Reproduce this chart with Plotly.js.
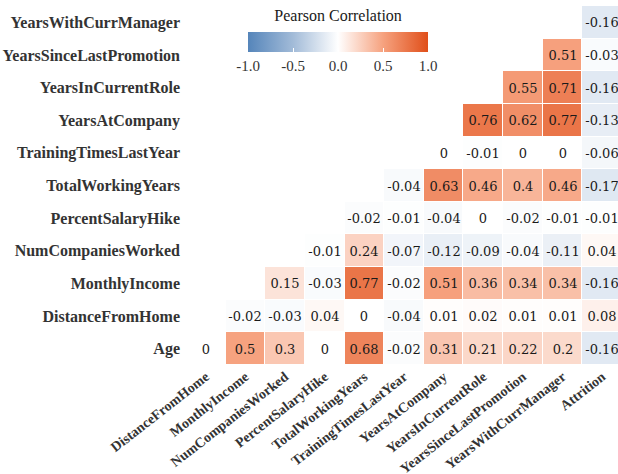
<!DOCTYPE html>
<html>
<head>
<meta charset="utf-8">
<script src="https://cdn.plot.ly/plotly-3.0.1.min.js"></script>
<style>html,body{margin:0;padding:0;background:#fff;}#chart{width:618px;height:474px;}</style>
</head>
<body>
<div id="chart"></div>
<script>
// Columns (x) and rows (y, bottom to top)
const xLabels = ["DistanceFromHome","MonthlyIncome","NumCompaniesWorked","PercentSalaryHike","TotalWorkingYears","TrainingTimesLastYear","YearsAtCompany","YearsInCurrentRole","YearsSinceLastPromotion","YearsWithCurrManager","Attrition"];
const yLabels = ["Age","DistanceFromHome","MonthlyIncome","NumCompaniesWorked","PercentSalaryHike","TotalWorkingYears","TrainingTimesLastYear","YearsAtCompany","YearsInCurrentRole","YearsSinceLastPromotion","YearsWithCurrManager"];

const n = null;
const rowAge                     = [0, 0.5, 0.3, 0, 0.68, -0.02, 0.31, 0.21, 0.22, 0.2, -0.16];
const rowDistanceFromHome        = [n, -0.02, -0.03, 0.04, 0, -0.04, 0.01, 0.02, 0.01, 0.01, 0.08];
const rowMonthlyIncome           = [n, n, 0.15, -0.03, 0.77, -0.02, 0.51, 0.36, 0.34, 0.34, -0.16];
const rowNumCompaniesWorked      = [n, n, n, -0.01, 0.24, -0.07, -0.12, -0.09, -0.04, -0.11, 0.04];
const rowPercentSalaryHike       = [n, n, n, n, -0.02, -0.01, -0.04, 0, -0.02, -0.01, -0.01];
const rowTotalWorkingYears       = [n, n, n, n, n, -0.04, 0.63, 0.46, 0.4, 0.46, -0.17];
const rowTrainingTimesLastYear   = [n, n, n, n, n, n, 0, -0.01, 0, 0, -0.06];
const rowYearsAtCompany          = [n, n, n, n, n, n, n, 0.76, 0.62, 0.77, -0.13];
const rowYearsInCurrentRole      = [n, n, n, n, n, n, n, n, 0.55, 0.71, -0.16];
const rowYearsSinceLastPromotion = [n, n, n, n, n, n, n, n, n, 0.51, -0.03];
const rowYearsWithCurrManager    = [n, n, n, n, n, n, n, n, n, n, -0.16];

const z = [rowAge, rowDistanceFromHome, rowMonthlyIncome, rowNumCompaniesWorked, rowPercentSalaryHike,
  rowTotalWorkingYears, rowTrainingTimesLastYear, rowYearsAtCompany, rowYearsInCurrentRole,
  rowYearsSinceLastPromotion, rowYearsWithCurrManager];
const text = z.map(r => r.map(v => v === null ? "" : String(v)));

const serif = "Liberation Serif, Times New Roman, serif";
const wideSerif = "DejaVu Serif, Liberation Serif, serif";

const trace = {
  type: "heatmap",
  x: xLabels.map((_, i) => i),
  y: yLabels.map((_, i) => i),
  z: z,
  text: text,
  texttemplate: "%{text}",
  textfont: {family: wideSerif, size: 13, color: "#1a1a1a"},
  zmin: -1, zmax: 1,
  xgap: 1, ygap: 1,
  hoverongaps: false,
  colorscale: [
    [0, "#5585BA"],
    [0.25, "#A2BBD8"],
    [0.5, "#FFFFFF"],
    [0.75, "#F6A27F"],
    [1, "#E04F1A"]
  ],
  colorbar: {
    orientation: "h",
    thickness: 20,
    len: 180, lenmode: "pixels",
    x: 0.352, xanchor: "center",
    y: 0.975, yanchor: "top",
    xpad: 0, ypad: 0,
    outlinewidth: 0,
    ticks: "inside", ticklen: 4, tickcolor: "#ffffff",
    tickvals: [-1, -0.5, 0, 0.5, 1],
    ticktext: ["-1.0", "-0.5", "0.0", "0.5", "1.0"],
    tickfont: {family: serif, size: 15, color: "#333333"},
    title: {text: "Pearson Correlation", side: "top", font: {family: serif, size: 16, color: "#1a1a1a"}}
  }
};

const layout = {
  width: 618, height: 474,
  margin: {l: 186, r: 0, t: 6, b: 109},
  paper_bgcolor: "#ffffff",
  plot_bgcolor: "#ffffff",
  font: {family: serif},
  xaxis: {
    range: [-0.5, 10.4],
    tickmode: "array",
    tickvals: xLabels.map((_, i) => i),
    ticktext: xLabels,
    tickangle: -38,
    showgrid: false, zeroline: false, showline: false, ticks: "",
    tickfont: {family: serif, size: 14, color: "#333333", weight: "bold"},
    fixedrange: true
  },
  yaxis: {
    range: [-0.5, 10.5],
    tickmode: "array",
    tickvals: yLabels.map((_, i) => i),
    ticktext: yLabels,
    ticklabelstandoff: 5,
    showgrid: false, zeroline: false, showline: false, ticks: "",
    tickfont: {family: serif, size: 16, color: "#333333", weight: "bold"},
    fixedrange: true
  }
};

Plotly.newPlot("chart", [trace], layout, {displayModeBar: false, staticPlot: true});
</script>
</body>
</html>
